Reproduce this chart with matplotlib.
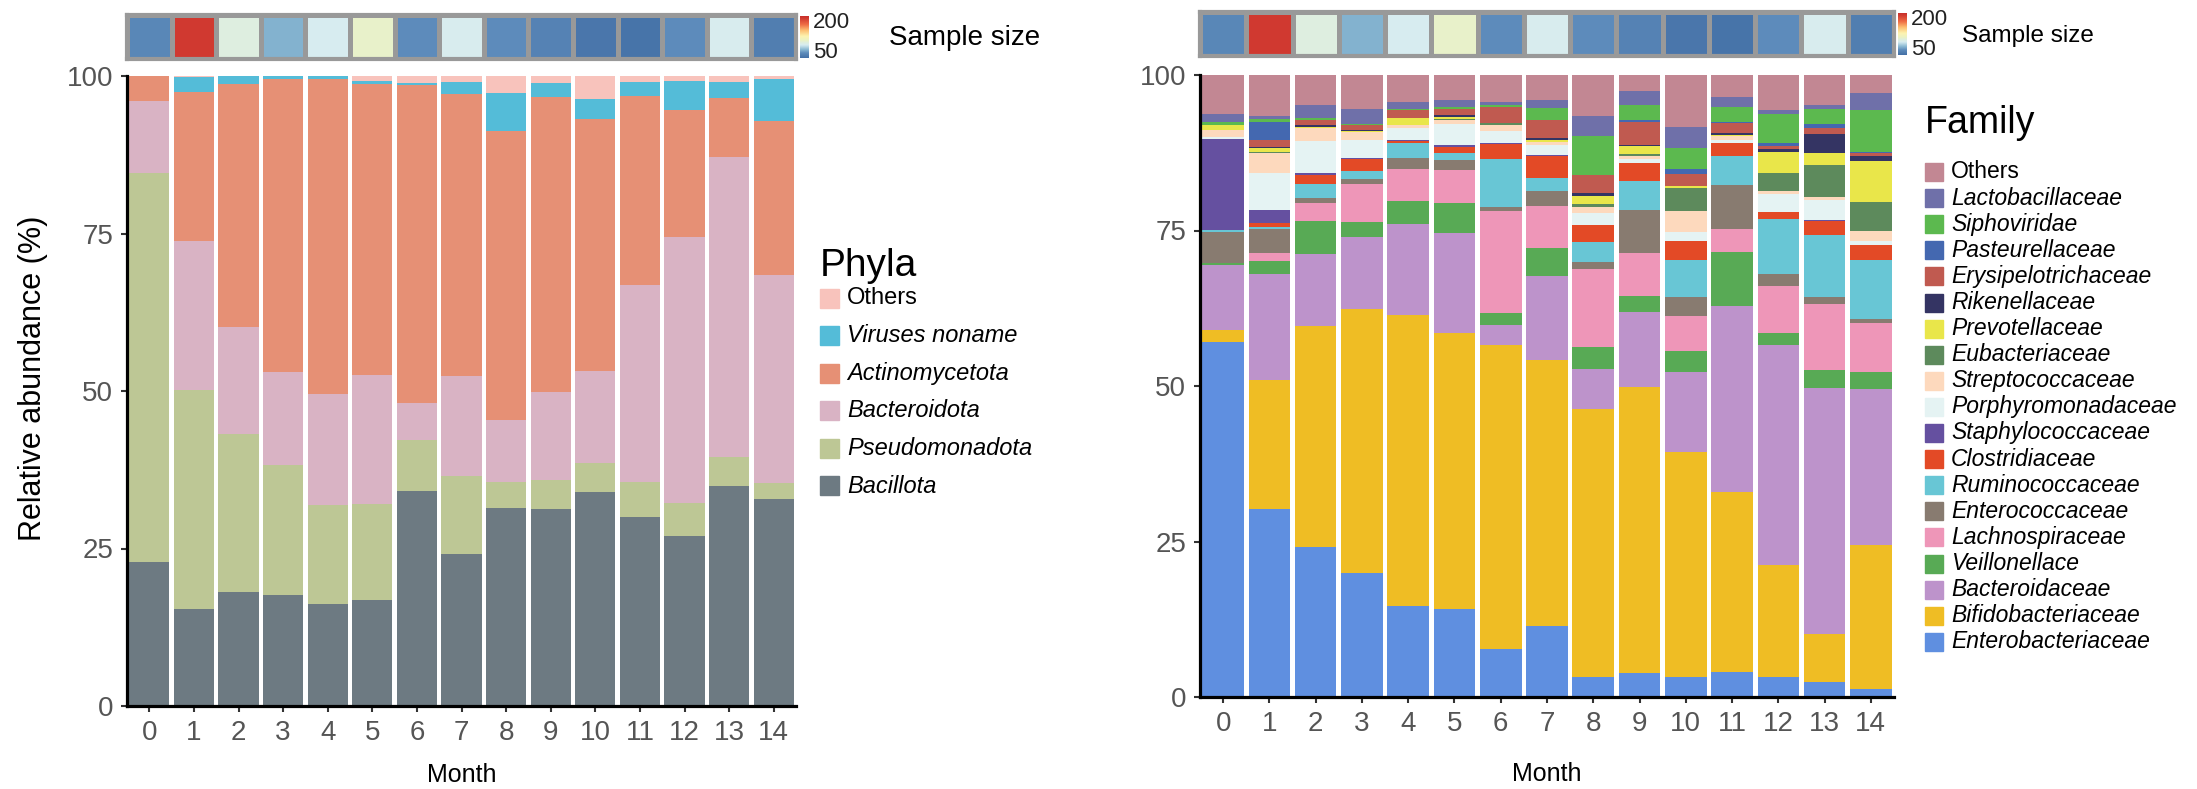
import matplotlib
matplotlib.use('Agg')
import matplotlib.pyplot as plt
from matplotlib.colors import LinearSegmentedColormap, Normalize
from matplotlib.patches import Rectangle
import numpy as np

plt.rcParams['font.family'] = ['Liberation Sans', 'DejaVu Sans']

FIG_W, FIG_H, DPI = 2197, 789, 100

MONTHS = list(range(15))
SAMPLE_SIZE = [31, 210, 86, 50, 75, 96, 35, 77, 35, 27, 16, 14, 35, 77, 23]

# Phyla, % per month (stack order bottom -> top)
bacillota      = [22.9, 15.4, 18.1, 17.6, 16.2, 16.8, 34.1, 24.2, 31.5, 31.3, 33.9, 30.0, 27.0, 34.9, 32.9]
pseudomonadota = [61.7, 34.8, 25.0, 20.7, 15.7, 15.2,  8.1, 12.3,  4.0,  4.6,  4.7,  5.6,  5.2,  4.6,  2.5]
bacteroidota   = [11.5, 23.6, 17.0, 14.7, 17.7, 20.6,  5.9, 15.9,  9.9, 14.0, 14.5, 31.3, 42.2, 47.6, 33.0]
actinomycetota = [ 3.9, 23.7, 38.7, 46.5, 50.0, 46.2, 50.5, 44.8, 45.9, 46.7, 40.0, 30.0, 20.2,  9.4, 24.4]
viruses_noname = [ 0.0,  2.3,  1.2,  0.5,  0.4,  0.4,  0.3,  1.9,  6.0,  2.3,  3.3,  2.1,  4.6,  2.6,  6.8]
phyla_others   = [ 0.0,  0.2,  0.0,  0.0,  0.0,  0.8,  1.1,  0.9,  2.7,  1.1,  3.6,  1.0,  0.8,  0.9,  0.4]

PHYLA = ['Bacillota', 'Pseudomonadota', 'Bacteroidota', 'Actinomycetota', 'Viruses noname', 'Others']
PHYLA_COLORS = ['#6d7a82', '#bdc795', '#d9b3c4', '#e69075', '#54bcd8', '#f8c3bc']

# Families, % per month (stack order bottom -> top)
enterobacteriaceae  = [57.1, 30.2, 24.1, 19.9, 14.7, 14.2,  7.7, 11.4,  3.2,  3.9,  3.2,  4.0,  3.2,  2.4,  1.3]
bifidobacteriaceae  = [ 1.9, 20.8, 35.6, 42.5, 46.7, 44.3, 48.9, 42.7, 43.1, 45.9, 36.2, 28.9, 18.0,  7.8, 23.2]
bacteroidaceae      = [10.5, 17.0, 11.5, 11.6, 14.7, 16.1,  3.2, 13.6,  6.5, 12.1, 12.9, 29.9, 35.4, 39.5, 25.0]
veillonellace       = [ 0.3,  2.1,  5.4,  2.3,  3.7,  4.9,  1.9,  4.5,  3.4,  2.6,  3.4,  8.8,  1.9,  2.9,  2.7]
lachnospiraceae     = [ 0.0,  1.3,  2.8,  6.2,  5.1,  5.2, 16.5,  6.8, 12.6,  6.9,  5.5,  3.7,  7.5, 10.6,  7.9]
enterococcaceae     = [ 5.0,  3.8,  0.9,  0.8,  1.8,  1.6,  0.6,  2.3,  1.1,  6.9,  3.1,  7.0,  2.0,  1.1,  0.7]
ruminococcaceae     = [ 0.3,  0.3,  2.2,  1.2,  2.3,  1.2,  7.7,  2.2,  3.2,  4.7,  6.0,  4.7,  8.9, 10.0,  9.5]
clostridiaceae      = [ 0.0,  0.7,  1.5,  2.0,  0.4,  1.0,  2.4,  3.4,  2.8,  2.8,  3.0,  2.0,  1.0,  2.2,  2.3]
staphylococcaceae   = [14.6,  2.1,  0.3,  0.2,  0.2,  0.2,  0.2,  0.3,  0.0,  0.0,  0.0,  0.0,  0.0,  0.2,  0.0]
porphyromonadaceae  = [ 0.3,  5.9,  5.1,  2.9,  1.8,  3.5,  1.9,  1.6,  1.9,  0.7,  1.5,  0.5,  2.9,  3.2,  0.7]
streptococcaceae    = [ 1.2,  3.3,  2.0,  1.3,  0.6,  0.5,  0.9,  0.4,  1.0,  0.5,  3.4,  0.7,  0.6,  0.5,  1.7]
eubacteriaceae      = [ 0.0,  0.2,  0.0,  0.0,  0.0,  0.2,  0.4,  0.0,  0.4,  0.3,  3.6,  0.0,  2.8,  5.1,  4.6]
prevotellaceae      = [ 0.8,  0.6,  0.2,  0.1,  1.1,  0.3,  0.0,  0.4,  1.3,  1.3,  0.3,  0.2,  3.5,  2.0,  6.5]
rikenellaceae       = [ 0.0,  0.2,  0.3,  0.1,  0.0,  0.3,  0.0,  0.2,  0.5,  0.2,  0.0,  0.3,  0.4,  3.0,  0.9]
erysipelotrichaceae = [ 0.0,  1.1,  0.8,  0.8,  1.3,  1.1,  2.6,  2.9,  2.9,  3.7,  2.0,  1.6,  0.5,  0.9,  0.4]
pasteurellaceae     = [ 0.0,  2.8,  0.0,  0.0,  0.0,  0.0,  0.0,  0.0,  0.0,  0.2,  0.8,  0.2,  0.4,  0.7,  0.2]
siphoviridae        = [ 0.4,  0.6,  0.4,  0.3,  0.2,  0.3,  0.3,  2.0,  6.3,  2.4,  3.3,  2.3,  4.7,  2.4,  6.8]
lactobacillaceae    = [ 1.3,  0.4,  2.1,  2.4,  1.0,  1.1,  0.5,  1.3,  3.2,  2.4,  3.5,  1.6,  0.7,  0.7,  2.7]
family_others       = [ 6.3,  6.6,  4.8,  5.4,  4.4,  4.0,  4.3,  4.0,  6.6,  2.5,  8.3,  3.6,  5.6,  4.8,  2.9]

FAMILIES = ['Enterobacteriaceae', 'Bifidobacteriaceae', 'Bacteroidaceae', 'Veillonellace',
            'Lachnospiraceae', 'Enterococcaceae', 'Ruminococcaceae', 'Clostridiaceae',
            'Staphylococcaceae', 'Porphyromonadaceae', 'Streptococcaceae', 'Eubacteriaceae',
            'Prevotellaceae', 'Rikenellaceae', 'Erysipelotrichaceae', 'Pasteurellaceae',
            'Siphoviridae', 'Lactobacillaceae', 'Others']
FAMILY_COLORS = ['#5f8fe0', '#efbd24', '#bd93cb', '#58aa55', '#ee96b8', '#887b70', '#68c6d5',
                 '#e34a26', '#6550a0', '#e5f3f3', '#fdd9bd', '#5d8a5c', '#e9e64a', '#343463',
                 '#c05a50', '#4468b0', '#5cb94f', '#6f70a9', '#c28793']

SIZE_CMAP = LinearSegmentedColormap.from_list('size', [
    (0.00, '#4470a6'), (0.12, '#5e8cbb'), (0.20, '#89b8d2'), (0.31, '#d7ecf0'),
    (0.37, '#dfeedd'), (0.42, '#ebf2c4'), (0.52, '#fdf3b0'), (0.66, '#fdbf72'),
    (0.80, '#ef6d45'), (0.95, '#d03a30'), (1.00, '#c8302c')])
SIZE_NORM = Normalize(vmin=10, vmax=220)


def px_box(x0, y0, x1, y1):
    """ Pixel box (top-left origin) -> figure fraction [left, bottom, width, height]. """
    return [x0 / FIG_W, 1 - y1 / FIG_H, (x1 - x0) / FIG_W, (y1 - y0) / FIG_H]


def draw_stacks(ax, series, colors):
    bottom = np.zeros(len(MONTHS))
    for vals, color in zip(series, colors):
        ax.bar(MONTHS, vals, bottom=bottom, width=0.9, color=color, linewidth=0)
        bottom += np.array(vals)
    ax.set_xlim(-0.5, 14.5)
    ax.set_ylim(0, 100)
    ax.set_xticks(MONTHS)
    ax.set_yticks([0, 25, 50, 75, 100])
    for side in ('top', 'right'):
        ax.spines[side].set_visible(False)
    for side in ('left', 'bottom'):
        ax.spines[side].set_linewidth(2.3)
        ax.spines[side].set_color('black')
    ax.tick_params(length=4, width=1.5, color='#333333', labelsize=20,
                   labelcolor='#555555', pad=6)
    ax.set_xlabel('Month', fontsize=18)


def draw_sample_size(fig, heat_box, cbar_box, label_xy, label_fs):
    hax = fig.add_axes(px_box(*heat_box))
    hax.pcolormesh(np.arange(16) - 0.5, [0, 1], np.array([SAMPLE_SIZE]),
                   cmap=SIZE_CMAP, norm=SIZE_NORM, edgecolors='#999999', linewidth=2.2)
    hax.set_xlim(-0.5, 14.5)
    hax.set_xticks([])
    hax.set_yticks([])
    for sp in hax.spines.values():
        sp.set_color('#999999')
        sp.set_linewidth(3)
    cax = fig.add_axes(px_box(*cbar_box))
    grad = np.linspace(SIZE_NORM.vmin, SIZE_NORM.vmax, 200).reshape(-1, 1)
    cax.imshow(grad, aspect='auto', origin='lower', cmap=SIZE_CMAP, norm=SIZE_NORM,
               extent=[0, 1, SIZE_NORM.vmin, SIZE_NORM.vmax])
    cax.set_xticks([])
    cax.yaxis.tick_right()
    cax.set_yticks([50, 200])
    cax.tick_params(axis='y', length=0, pad=3, labelsize=16, labelcolor='#222222')
    for sp in cax.spines.values():
        sp.set_visible(False)
    fig.text(label_xy[0] / FIG_W, 1 - label_xy[1] / FIG_H, 'Sample size',
             fontsize=label_fs, ha='left', va='center')


def draw_key(fig, title, labels, colors, x, title_y, first_y, step, box, fs, title_fs):
    fig.text(x / FIG_W, 1 - title_y / FIG_H, title, fontsize=title_fs, va='baseline')
    for i, (lab, col) in enumerate(zip(labels[::-1], colors[::-1])):
        yc = first_y + i * step
        fig.patches.append(Rectangle((x / FIG_W, 1 - (yc + box / 2) / FIG_H),
                                     box / FIG_W, box / FIG_H, color=col,
                                     transform=fig.transFigure, figure=fig))
        style = 'normal' if lab == 'Others' else 'italic'
        fig.text((x + box + 8) / FIG_W, 1 - yc / FIG_H, lab, fontsize=fs,
                 style=style, va='center')


fig = plt.figure(figsize=(FIG_W / DPI, FIG_H / DPI), dpi=DPI)

# Phyla panel
ax1 = fig.add_axes(px_box(127, 76, 796, 706))
draw_stacks(ax1, [bacillota, pseudomonadota, bacteroidota, actinomycetota,
                  viruses_noname, phyla_others], PHYLA_COLORS)
ax1.set_ylabel('Relative abundance (%)', fontsize=22)
ax1.yaxis.set_label_coords(-0.118, 0.52)
ax1.xaxis.set_label_coords(0.5, -0.09)
draw_sample_size(fig, (127, 15, 796, 59), (800, 16, 809, 58), (889, 38), 20)
draw_key(fig, 'Phyla', PHYLA, PHYLA_COLORS, 820, 276, 298, 37.6, 19, 17, 28)

# Family panel
ax2 = fig.add_axes(px_box(1200, 75, 1894, 697))
draw_stacks(ax2, [enterobacteriaceae, bifidobacteriaceae, bacteroidaceae, veillonellace,
                  lachnospiraceae, enterococcaceae, ruminococcaceae, clostridiaceae,
                  staphylococcaceae, porphyromonadaceae, streptococcaceae, eubacteriaceae,
                  prevotellaceae, rikenellaceae, erysipelotrichaceae, pasteurellaceae,
                  siphoviridae, lactobacillaceae, family_others], FAMILY_COLORS)
ax2.xaxis.set_label_coords(0.5, -0.105)
draw_sample_size(fig, (1200, 12, 1894, 56), (1898, 13, 1907, 55), (1962, 36), 17.5)
draw_key(fig, 'Family', FAMILIES, FAMILY_COLORS, 1925, 133, 172, 26.1, 18, 16.5, 27)

fig.savefig('out.png', dpi=DPI)
